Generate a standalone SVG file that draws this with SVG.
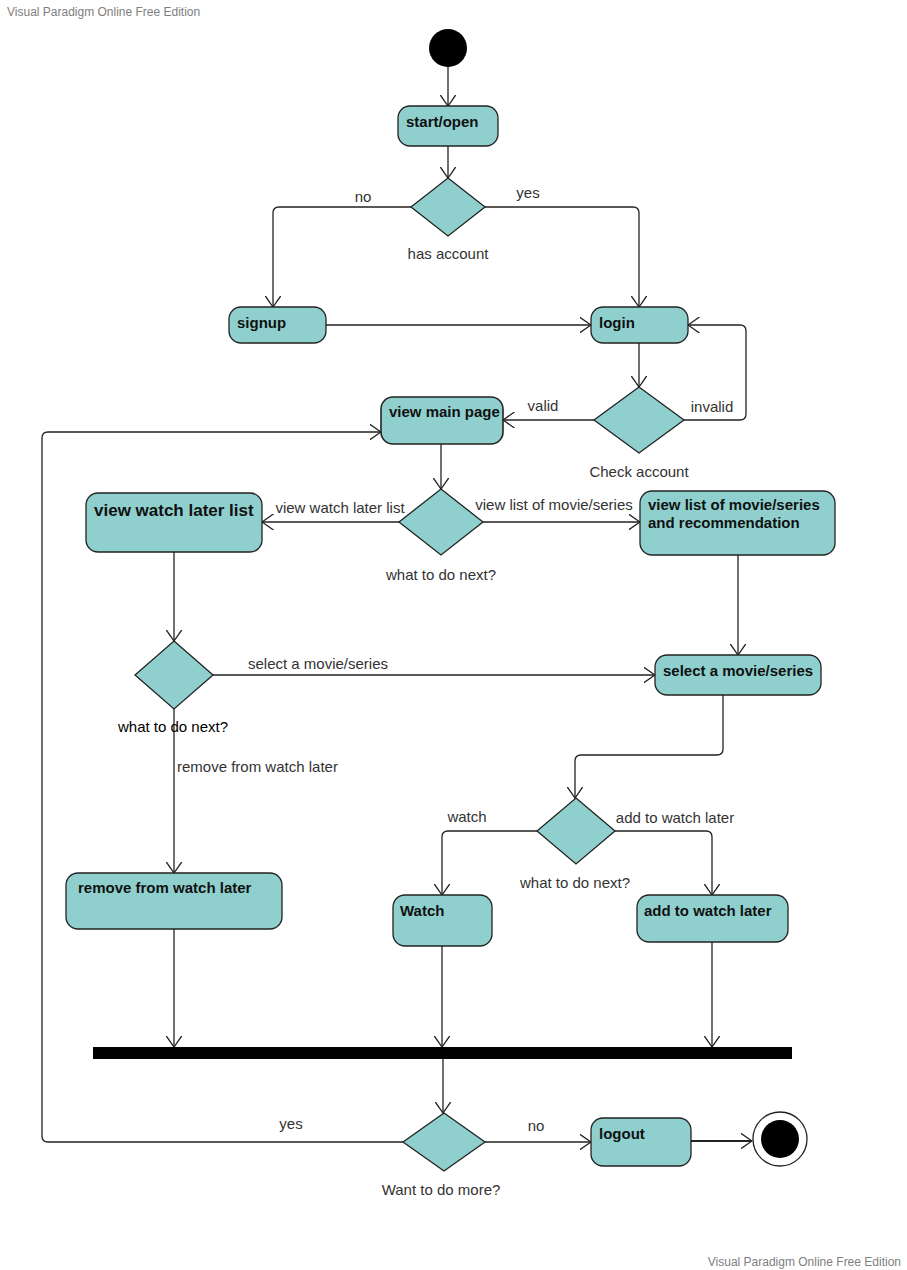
<svg xmlns="http://www.w3.org/2000/svg" width="907" height="1270" viewBox="0 0 907 1270">
<style>
.act{fill:#8fd0cf;stroke:#222;stroke-width:1.3}
.dec{fill:#8fd0cf;stroke:#222;stroke-width:1.3}
.nt{font-family:"Liberation Sans",Arial,sans-serif;font-weight:bold;font-size:15px;fill:#111}
.lb{font-family:"Liberation Sans",Arial,sans-serif;font-size:15px;fill:#333}
.wm{font-family:"Liberation Sans",Arial,sans-serif;font-size:12px;fill:#808080}
.cn{fill:none;stroke:#222;stroke-width:1.3;marker-end:url(#arr)}
</style>
<defs>
<marker id="arr" viewBox="0 0 12 16" refX="11.5" refY="8" markerWidth="12" markerHeight="16" orient="auto" markerUnits="userSpaceOnUse">
<path d="M0,0 L11.5,8 L0,16" fill="none" stroke="#222" stroke-width="1.3"/>
</marker>
</defs>
<rect width="907" height="1270" fill="#fff"/>
<text class="wm" x="7" y="16">Visual Paradigm Online Free Edition</text>
<text class="wm" x="901" y="1266" text-anchor="end">Visual Paradigm Online Free Edition</text>

<g id="connectors">
<path class="cn" d="M448,67 V106"/>
<path class="cn" d="M448,146 V178"/>
<path class="cn" d="M411,207 H279 Q273,207 273,213 V307"/>
<path class="cn" d="M485,207 H633 Q639,207 639,213 V307"/>
<path class="cn" d="M326,325 H591"/>
<path class="cn" d="M639,343 V387"/>
<path class="cn" d="M684,420 H740 Q746,420 746,414 V331 Q746,325 740,325 H688"/>
<path class="cn" d="M594,420 H503"/>
<path class="cn" d="M441,444 V489"/>
<path class="cn" d="M399,522 H262"/>
<path class="cn" d="M483,522 H640"/>
<path class="cn" d="M738,555 V655"/>
<path class="cn" d="M174,552 V641"/>
<path class="cn" d="M213,675 H655"/>
<path class="cn" d="M174,709 V873"/>
<path class="cn" d="M723,695 V749 Q723,755 717,755 H581 Q575,755 575,761 V798"/>
<path class="cn" d="M537,831 H448 Q442,831 442,837 V895"/>
<path class="cn" d="M615,831 H706 Q712,831 712,837 V895"/>
<path class="cn" d="M174,929 V1047"/>
<path class="cn" d="M442,946 V1047"/>
<path class="cn" d="M712,942 V1047"/>
<path class="cn" d="M443,1059 V1113"/>
<path class="cn" d="M485,1142 H591"/>
<path class="cn" d="M403,1142 H48 Q42,1142 42,1136 V438 Q42,432 48,432 H381"/>
<path class="cn" d="M691,1141 H752" style="stroke-width:2"/>
<text class="lb" x="363" y="202" text-anchor="middle">no</text>
<text class="lb" x="528" y="198" text-anchor="middle">yes</text>
<text class="lb" x="712" y="412" text-anchor="middle">invalid</text>
<text class="lb" x="543" y="411" text-anchor="middle">valid</text>
<text class="lb" x="340" y="513" text-anchor="middle">view watch later list</text>
<text class="lb" x="554" y="510" text-anchor="middle">view list of movie/series</text>
<text class="lb" x="318" y="669" text-anchor="middle">select a movie/series</text>
<text class="lb" x="177" y="772">remove from watch later</text>
<text class="lb" x="467" y="822" text-anchor="middle">watch</text>
<text class="lb" x="675" y="823" text-anchor="middle">add to watch later</text>
<text class="lb" x="291" y="1129" text-anchor="middle">yes</text>
<text class="lb" x="536" y="1131" text-anchor="middle">no</text>
</g>

<g id="start"><circle cx="448" cy="48" r="19" fill="#000"/></g>

<g id="start_open"><rect class="act" x="398" y="106" width="100" height="40" rx="12"/><text class="nt" x="406" y="127">start/open</text></g>

<g id="has_account"><polygon class="dec" points="448,178 485,207 448,236 411,207"/><text class="lb" x="448" y="259" text-anchor="middle">has account</text></g>

<g id="signup"><rect class="act" x="229" y="307" width="97" height="36" rx="12"/><text class="nt" x="237" y="328">signup</text></g>

<g id="login"><rect class="act" x="591" y="307" width="97" height="36" rx="12"/><text class="nt" x="599" y="328">login</text></g>

<g id="check_account"><polygon class="dec" points="639,387 684,420 639,453 594,420"/><text class="lb" x="639" y="477" text-anchor="middle">Check account</text></g>

<g id="view_main_page"><rect class="act" x="381" y="397" width="122" height="47" rx="12" style="stroke-width:1.6"/><text class="nt" x="389" y="417">view main page</text></g>

<g id="what_next_1"><polygon class="dec" points="441,489 483,522 441,555 399,522"/><text class="lb" x="441" y="580" text-anchor="middle">what to do next?</text></g>

<g id="view_watch_later_list"><rect class="act" x="86" y="493" width="176" height="59" rx="12"/><text class="nt" x="94" y="516" style="font-size:17px">view watch later list</text></g>

<g id="view_list"><rect class="act" x="640" y="491" width="195" height="64" rx="12"/><text class="nt" x="648" y="510">view list of movie/series</text><text class="nt" x="648" y="528">and recommendation</text></g>

<g id="what_next_2"><polygon class="dec" points="174,641 213,675 174,709 135,675"/><text class="lb" x="173" y="732" text-anchor="middle" style="fill:#000">what to do next?</text></g>

<g id="select_movie"><rect class="act" x="655" y="655" width="166" height="40" rx="12"/><text class="nt" x="663" y="676">select a movie/series</text></g>

<g id="remove_watch_later"><rect class="act" x="66" y="873" width="216" height="56" rx="12"/><text class="nt" x="78" y="893">remove from watch later</text></g>

<g id="what_next_3"><polygon class="dec" points="576,798 615,831 576,864 537,831"/><text class="lb" x="575" y="888" text-anchor="middle">what to do next?</text></g>

<g id="watch"><rect class="act" x="393" y="895" width="99" height="51" rx="12"/><text class="nt" x="400" y="916">Watch</text></g>

<g id="add_watch_later"><rect class="act" x="637" y="895" width="151" height="47" rx="12"/><text class="nt" x="644" y="916">add to watch later</text></g>

<g id="join_bar"><rect x="93" y="1047" width="699" height="12" fill="#000"/></g>

<g id="want_more"><polygon class="dec" points="444,1113 485,1142 444,1171 403,1142"/><text class="lb" x="441" y="1195" text-anchor="middle">Want to do more?</text></g>

<g id="logout"><rect class="act" x="591" y="1118" width="100" height="48" rx="12"/><text class="nt" x="599" y="1139">logout</text></g>

<g id="end"><circle cx="780" cy="1139" r="27" fill="#fff" stroke="#222" stroke-width="1.3"/><circle cx="780" cy="1139" r="19" fill="#000"/></g>
</svg>
